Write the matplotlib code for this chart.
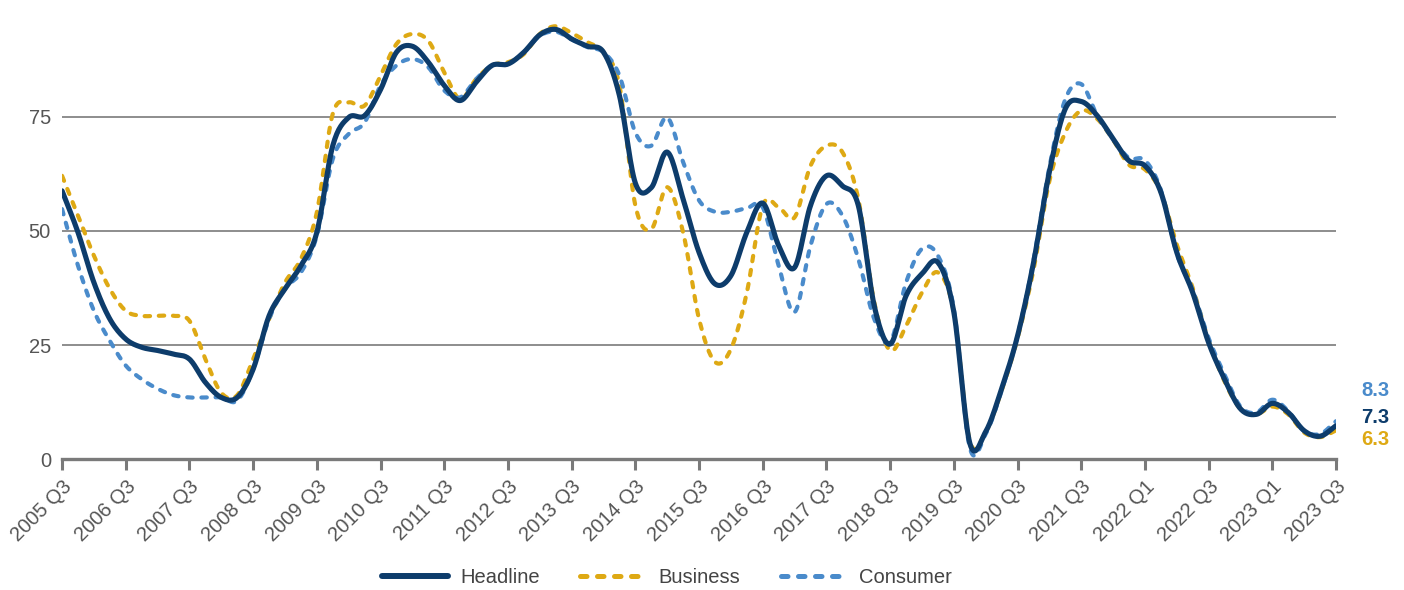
import numpy as np
import matplotlib
matplotlib.use("Agg")
import matplotlib.pyplot as plt
from matplotlib.lines import Line2D

plt.rcParams['font.family'] = ['Liberation Sans', 'DejaVu Sans']

# Tick labels (one per category tick)
tick_labels = ["2005 Q3", "2006 Q3", "2007 Q3", "2008 Q3", "2009 Q3", "2010 Q3",
               "2011 Q3", "2012 Q3", "2013 Q3", "2014 Q3", "2015 Q3", "2016 Q3",
               "2017 Q3", "2018 Q3", "2019 Q3", "2020 Q3", "2021 Q3", "2022 Q1",
               "2022 Q3", "2023 Q1", "2023 Q3"]

# Observations sit at quarter steps between ticks
steps_per_tick = 4
n_obs = (len(tick_labels) - 1) * steps_per_tick + 1

headline = [58.8, 49.7, 38.7, 30.7, 26.3, 24.5, 23.8, 23.0, 21.9, 16.8,
            13.5, 13.5, 19.7, 31.4, 37.3, 42.4, 49.7, 68.7, 74.9, 75.3,
            81.0, 89.2, 90.5, 87.0, 81.9, 78.6, 82.6, 86.3, 86.6, 89.2,
            93.0, 94.2, 92.1, 90.5, 89.2, 79.7, 60.5, 59.5, 67.3, 57.0,
            45.3, 38.4, 40.2, 49.7, 56.1, 46.8, 42.0, 55.6, 62.1, 59.9,
            55.6, 33.6, 25.2, 35.8, 40.6, 43.1, 32.2, 3.5, 6.0, 15.4,
            27.0, 43.0, 63.0, 76.8, 78.4, 75.3, 70.2, 65.4, 64.3, 58.5,
            45.3, 36.5, 25.5, 17.5, 11.0, 9.8, 12.2, 10.2, 6.2, 5.0,
            7.3]

business = [62.1, 53.4, 44.6, 37.3, 32.5, 31.4, 31.4, 31.4, 30.3, 21.9,
            14.5, 14.0, 21.9, 30.7, 38.7, 43.9, 54.1, 75.7, 78.2, 77.5,
            84.1, 91.0, 93.2, 91.7, 84.8, 78.9, 83.3, 86.3, 87.0, 88.8,
            93.2, 94.9, 93.4, 91.4, 89.2, 81.9, 55.6, 50.4, 59.6, 49.7,
            30.7, 21.3, 24.1, 36.5, 55.6, 55.2, 53.0, 64.3, 68.7, 67.3,
            57.0, 34.4, 23.8, 29.2, 36.5, 40.9, 32.2, 4.0, 6.0, 15.0,
            26.5, 41.5, 61.0, 71.6, 76.4, 74.6, 70.0, 64.5, 63.5, 58.5,
            47.0, 37.5, 26.0, 17.0, 11.0, 9.8, 11.5, 9.8, 5.8, 4.8,
            6.3]

consumer = [54.8, 42.4, 32.5, 25.9, 20.5, 17.5, 15.4, 14.0, 13.5, 13.5,
            13.5, 12.8, 19.7, 30.7, 37.3, 40.9, 49.0, 65.8, 71.3, 73.8,
            81.9, 86.3, 87.7, 85.9, 80.8, 79.3, 83.3, 86.3, 86.6, 89.2,
            92.8, 93.7, 92.0, 90.3, 89.2, 84.1, 71.6, 68.7, 74.9, 65.1,
            56.7, 54.2, 54.2, 55.0, 55.2, 42.4, 32.2, 46.8, 55.9, 53.4,
            43.9, 30.7, 25.6, 38.7, 46.1, 44.6, 32.9, 2.5, 5.5, 15.0,
            27.0, 43.5, 64.0, 78.9, 82.2, 75.3, 70.2, 66.0, 65.5, 59.0,
            45.0, 37.0, 26.5, 18.5, 11.5, 10.2, 13.0, 10.5, 6.2, 5.5,
            8.3]

series_names = ["Headline", "Business", "Consumer"]
colors = {"Headline": "#0d3c6b", "Business": "#dea914", "Consumer": "#4a8bcb"}


def catmull_rom(x, y, samples=16):
    """Smooth curve through every point (uniform Catmull-Rom)."""
    x = np.asarray(x, float)
    y = np.asarray(y, float)
    px = np.concatenate([[2 * x[0] - x[1]], x, [2 * x[-1] - x[-2]]])
    py = np.concatenate([[2 * y[0] - y[1]], y, [2 * y[-1] - y[-2]]])
    t = np.linspace(0, 1, samples, endpoint=False)
    xs, ys = [], []
    for k in range(1, len(px) - 2):
        for arr, out in ((px, xs), (py, ys)):
            p0, p1, p2, p3 = arr[k - 1], arr[k], arr[k + 1], arr[k + 2]
            out.append(0.5 * ((2 * p1) + (-p0 + p2) * t
                              + (2 * p0 - 5 * p1 + 4 * p2 - p3) * t ** 2
                              + (-p0 + 3 * p1 - 3 * p2 + p3) * t ** 3))
    xs.append([x[-1]])
    ys.append([y[-1]])
    return np.concatenate(xs), np.concatenate(ys)


x_obs = np.arange(n_obs) / steps_per_tick

fig = plt.figure(figsize=(14.04, 5.90), dpi=100)
ax = fig.add_axes([0.0442, 0.222, 0.9074, 0.773])

data = {"Headline": headline, "Business": business, "Consumer": consumer}
dash = (0, (1.3, 2.1))
styles = {
    "Headline": dict(lw=3.7, ls="-", solid_capstyle="round", zorder=4),
    "Business": dict(lw=3.0, ls=dash, dash_capstyle="round", zorder=2),
    "Consumer": dict(lw=3.0, ls=dash, dash_capstyle="round", zorder=3),
}
draw_order = ["Business", "Consumer", "Headline"]
for name in draw_order:
    xs, ys = catmull_rom(x_obs, data[name])
    ax.plot(xs, ys, color=colors[name], **styles[name])

# end-of-series value labels
label_y = {"Consumer": 15.0, "Headline": 9.0, "Business": 4.2}
for name in ["Consumer", "Headline", "Business"]:
    ax.text(20.4, label_y[name], f"{data[name][-1]:.1f}", color=colors[name],
            fontsize=14.5, fontweight="bold", va="center", ha="left",
            clip_on=False)

ax.set_xlim(0, 20)
ax.set_ylim(0, 100)
ax.set_yticks([0, 25, 50, 75])
ax.set_yticklabels(["0", "25", "50", "75"])
for yv in [25, 50, 75]:
    ax.axhline(yv, color="#858585", lw=1.3, zorder=1)

ax.set_xticks(range(len(tick_labels)))
ax.set_xticklabels(tick_labels, rotation=45, ha="right",
                   rotation_mode="anchor")
ax.tick_params(axis="x", direction="out", length=8, width=2.2,
               color="#7a7a7a", labelsize=14.5, labelcolor="#555555", pad=5)
ax.tick_params(axis="y", length=0, labelsize=14.5, labelcolor="#555555", pad=8)

for side in ["left", "right", "top"]:
    ax.spines[side].set_visible(False)
ax.spines["bottom"].set_color("#7a7a7a")
ax.spines["bottom"].set_linewidth(2.4)
ax.spines["bottom"].set_zorder(5)

handles = [Line2D([], [], color=colors[n], lw=styles[n]["lw"] + 0.6,
                  ls=styles[n]["ls"], dash_capstyle="round",
                  solid_capstyle="round")
           for n in series_names]
fig.legend(handles, series_names, loc="lower center", ncol=3, frameon=False,
           bbox_to_anchor=(0.475, -0.025), fontsize=14.5, handlelength=3.3,
           handletextpad=0.6, columnspacing=2.0, labelcolor="#444444")

fig.savefig("out.png", dpi=100)
